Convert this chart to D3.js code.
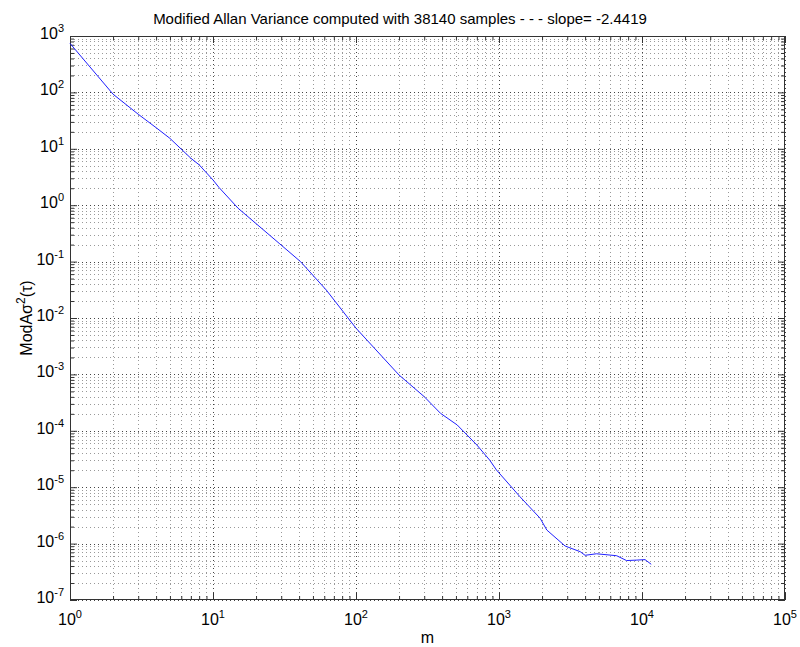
<!DOCTYPE html>
<html><head><meta charset="utf-8">
<script src="https://cdn.jsdelivr.net/npm/d3@7"></script>
<style>
body{margin:0;background:#fff;}
text{font-family:Arial,"Liberation Sans",Helvetica,sans-serif;}
</style></head>
<body><svg id="c" width="800" height="647"></svg>
<script>
const mValues = [1,2,3,4,5,7,8,10,11,15,29,41,62,100,200,300,390,510,700,860,960,1400,1940,2160,2900,3700,4000,4800,6650,7800,9200,10500,11600];
const modAvar = [740,93,41,23.7,15.3,6.8,5.2,2.8,2.07,0.88,0.211,0.0995,0.0313,0.0066,9.75e-4,4.03e-4,2.04e-4,1.27e-4,5.6e-5,3.03e-5,2.02e-5,6.8e-6,2.81e-6,1.74e-6,9.06e-7,7.18e-7,6.2e-7,6.6e-7,6.1e-7,5.0e-7,5.1e-7,5.2e-7,4.3e-7];
const xTickExps = [0,1,2,3,4,5];
const yTickExps = [3,2,1,0,-1,-2,-3,-4,-5,-6,-7];
const titleText = "Modified Allan Variance computed with 38140 samples - - - slope= -2.4419";

const svg = d3.select("#c");
const L=70, R=785, T=36, B=600;
const x = d3.scaleLog().domain([1,1e5]).range([L,R]);
const y = d3.scaleLog().domain([1e-7,1e3]).range([B,T]);

const majX = xTickExps.map(e=>Math.pow(10,e));
const majY = yTickExps.map(e=>Math.pow(10,e));
const minX=[], minY=[];
for(let e=0;e<5;e++) for(let k=2;k<=9;k++) minX.push(k*Math.pow(10,e));
for(let e=-7;e<3;e++) for(let k=2;k<=9;k++) minY.push(k*Math.pow(10,e));

const g = svg.append("g");
g.selectAll(".mgx").data(minX).join("line").attr("x1",d=>Math.round(x(d))+0.5).attr("x2",d=>Math.round(x(d))+0.5)
 .attr("y1",T).attr("y2",B).attr("stroke","#999").attr("stroke-dasharray","1,3");
g.selectAll(".mgy").data(minY).join("line").attr("y1",d=>Math.round(y(d))+0.5).attr("y2",d=>Math.round(y(d))+0.5)
 .attr("x1",L).attr("x2",R).attr("stroke","#999").attr("stroke-dasharray","1,3");
g.selectAll(".Mgx").data(majX).join("line").attr("x1",d=>Math.round(x(d))+0.5).attr("x2",d=>Math.round(x(d))+0.5)
 .attr("y1",T).attr("y2",B).attr("stroke","#444").attr("stroke-dasharray","1,3");
g.selectAll(".Mgy").data(majY).join("line").attr("y1",d=>Math.round(y(d))+0.5).attr("y2",d=>Math.round(y(d))+0.5)
 .attr("x1",L).attr("x2",R).attr("stroke","#444").attr("stroke-dasharray","1,3");

function tickAxis(axisGen, tr, vals, size){
  const a = svg.append("g").attr("transform",tr).call(axisGen.tickValues(vals).tickSize(size).tickFormat(""));
  a.select(".domain").remove();
  a.selectAll("line").attr("stroke","#333");
}
tickAxis(d3.axisBottom(x),`translate(0,${B})`,majX,-7);
tickAxis(d3.axisBottom(x),`translate(0,${B})`,minX,-4);
tickAxis(d3.axisTop(x),`translate(0,${T})`,majX,-7);
tickAxis(d3.axisTop(x),`translate(0,${T})`,minX,-4);
tickAxis(d3.axisLeft(y),`translate(${L},0)`,majY,-7);
tickAxis(d3.axisLeft(y),`translate(${L},0)`,minY,-4);
tickAxis(d3.axisRight(y),`translate(${R},0)`,majY,-7);
tickAxis(d3.axisRight(y),`translate(${R},0)`,minY,-4);

svg.append("rect").attr("x",L+0.5).attr("y",T+0.5).attr("width",R-L-1).attr("height",B-T-1)
 .attr("fill","none").attr("stroke","#333");

const line = d3.line().x((d,i)=>x(mValues[i])).y(d=>y(d));
svg.append("path").datum(modAvar).attr("d",line).attr("fill","none").attr("stroke","#2020ff").attr("stroke-width",1);

const fs=16;
xTickExps.forEach(e=>{
  const t = svg.append("text").attr("x",x(Math.pow(10,e))).attr("y",625).attr("font-size",fs).attr("text-anchor","middle");
  t.append("tspan").text("10");
  t.append("tspan").attr("dy",-7).attr("font-size",11).text(e);
});
yTickExps.forEach(e=>{
  const t = svg.append("text").attr("x",L-6).attr("y",y(Math.pow(10,e))+3).attr("font-size",fs).attr("text-anchor","end");
  t.append("tspan").text("10");
  t.append("tspan").attr("dy",-7).attr("font-size",11).text(e);
});

svg.append("text").attr("x",400).attr("y",24).attr("text-anchor","middle").attr("font-size",15).text(titleText);
svg.append("text").attr("x",(L+R)/2).attr("y",643).attr("text-anchor","middle").attr("font-size",16).text("m");
const yl = svg.append("text").attr("transform",`translate(32,${(T+B)/2}) rotate(-90)`).attr("text-anchor","middle").attr("font-size",16);
yl.append("tspan").text("ModA");
yl.append("tspan").text("σ");
yl.append("tspan").attr("dy",-7).attr("font-size",12).text("2");
yl.append("tspan").attr("dy",7).text("(τ)");
</script></body></html>
